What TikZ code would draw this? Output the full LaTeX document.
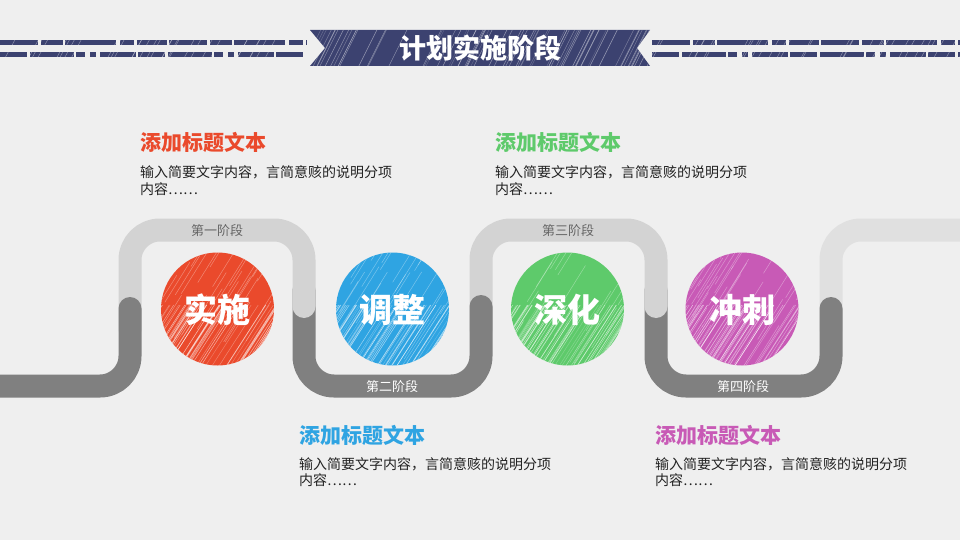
\documentclass[tikz,border=0pt]{standalone}
\usepackage{fontspec}
\setmainfont{Noto Sans CJK SC}
\definecolor{bgc}{HTML}{EFEFEF}
\definecolor{navy}{HTML}{3C4270}
\definecolor{lightt}{HTML}{D3D3D3}
\definecolor{lightt2}{HTML}{E0E0E0}
\definecolor{darkt}{HTML}{808080}
\definecolor{cred}{HTML}{EA4A2C}
\definecolor{cblue}{HTML}{2FA4E2}
\definecolor{cgreen}{HTML}{5ECA6B}
\definecolor{cmag}{HTML}{C85AB6}
\definecolor{bodyc}{HTML}{222222}
\begin{document}
\begin{tikzpicture}[x=1pt,y=-1pt,
  tube/.style={line width=23pt, line cap=round, rounded corners=30pt},
  ball/.style={circle, inner sep=0pt, minimum size=113pt},
  balltxt/.style={white, font=\fontsize{33}{33}\selectfont\bfseries},
  stagetxt/.style={font=\fontsize{13}{13}\selectfont, inner sep=0pt},
  headtxt/.style={font=\fontsize{21}{21}\selectfont\bfseries, anchor=base west, inner sep=0pt},
  bodytxt/.style={font=\fontsize{14}{16}\selectfont, text=bodyc, anchor=base west, inner sep=0pt}]
\useasboundingbox (0,0) rectangle (960,540);
\clip (0,0) rectangle (960,540);
\fill[bgc] (0,0) rectangle (960,540);

% ---------- title stripes ----------
\begin{scope}
  \clip (0,40) rectangle (307,45) (0,52) rectangle (305,57)
        (652,40) rectangle (960,45) (652,52) rectangle (960,57);
  \draw[navy, line width=5pt, dash pattern=on 38pt off 3pt on 22pt off 2pt on 51pt off 4pt on 14pt off 3pt on 30pt off 2pt]
    (0,42.5) -- (307,42.5) (652,42.5) -- (960,42.5);
  \draw[navy, line width=5pt, dash pattern=on 27pt off 3pt on 44pt off 2pt on 9pt off 5pt on 6pt off 4pt on 36pt off 2pt]
    (0,54.5) -- (305,54.5) (652,54.5) -- (960,54.5);
  \pgfmathsetseed{7}
  \foreach \k in {0,...,90}{
    \pgfmathsetmacro\xx{rnd*960}
    \draw[white, opacity=0.4, line width=0.5pt] (\xx,60) -- ++(12,-22);
  }
\end{scope}

% ---------- title banner ----------
\path[fill=navy] (310,30) -- (650,30) -- (637,48) -- (650,66) -- (310,66) -- (325,48) -- cycle;
\begin{scope}
  \clip (310,30) -- (650,30) -- (637,48) -- (650,66) -- (310,66) -- (325,48) -- cycle;
  \pgfmathsetseed{3}
  \foreach \k in {0,...,70}{
    \pgfmathsetmacro\xx{300+rnd*360}
    \pgfmathsetmacro\op{0.15+rnd*0.35}
    \draw[white, opacity=\op, line width=0.5pt] (\xx,70) -- ++(22,-44);
  }
\end{scope}
\node[white, font=\fontsize{27}{27}\selectfont\bfseries] (title) at (480,48) {计划实施阶段};

% ---------- tube ----------
\draw[tube, lightt2] (831,330) -- (831,230) -- (975,230);
\draw[tube, darkt]  (656,290) -- (656,386) -- (831,386) -- (831,308.5);
\draw[tube, lightt] (481,330) -- (481,230) -- (656,230) -- (656,306.5);
\draw[tube, darkt]  (304,290) -- (304,386) -- (481,386) -- (481,306.5);
\draw[tube, lightt] (130,330) -- (130,230) -- (304,230) -- (304,306.5);
\draw[tube, darkt]  (-20,386) -- (130,386) -- (130,308.5);

\node[stagetxt, text=black!60] (s1) at (217,231) {第一阶段};
\node[stagetxt, text=black!60] (s3) at (568,231) {第三阶段};
\node[stagetxt, white] (s2) at (392,387) {第二阶段};
\node[stagetxt, white] (s4) at (743,387) {第四阶段};

% ---------- balls ----------
\foreach \n/\cx/\col/\txt in {1/217.5/cred/实施, 2/392.5/cblue/调整, 3/567.5/cgreen/深化, 4/742/cmag/冲刺}{
  \node[ball, fill=\col] (c\n) at (\cx,309) {};
  \begin{scope}
    \clip (\cx,309) circle (56.5);
    \pgfmathsetseed{\n*11}
    \foreach \k in {0,...,110}{
      \pgfmathsetmacro\xx{\cx-110+rnd*220}
      \pgfmathsetmacro\op{0.2+rnd*0.45}
      \draw[white, opacity=\op, line width=0.5pt] (\xx,375) -- ++(45,-70);
    }
    \foreach \k in {0,...,60}{
      \pgfmathsetmacro\xx{\cx-110+rnd*220}
      \pgfmathsetmacro\yy{250+rnd*120}
      \draw[white, opacity=0.35, line width=0.5pt] (\xx,\yy) -- ++(25,-40);
    }
  \end{scope}
  \node[balltxt] at (\cx,310) {\txt};
}

% ---------- text blocks ----------
\node[headtxt, text=cred] (h1) at (140,151) {添加标题文本};
\node[bodytxt] (t1a) at (140,178) {输入简要文字内容，言简意赅的说明分项};
\node[bodytxt] (t1b) at (140,194) {内容……};
\node[headtxt, text=cgreen] (h3) at (495,151) {添加标题文本};
\node[bodytxt] (t3a) at (495,178) {输入简要文字内容，言简意赅的说明分项};
\node[bodytxt] (t3b) at (495,194) {内容……};
\node[headtxt, text=cblue] (h2) at (299,443) {添加标题文本};
\node[bodytxt] (t2a) at (299,469) {输入简要文字内容，言简意赅的说明分项};
\node[bodytxt] (t2b) at (299,485) {内容……};
\node[headtxt, text=cmag] (h4) at (655,443) {添加标题文本};
\node[bodytxt] (t4a) at (655,469) {输入简要文字内容，言简意赅的说明分项};
\node[bodytxt] (t4b) at (655,485) {内容……};
\end{tikzpicture}
\end{document}
